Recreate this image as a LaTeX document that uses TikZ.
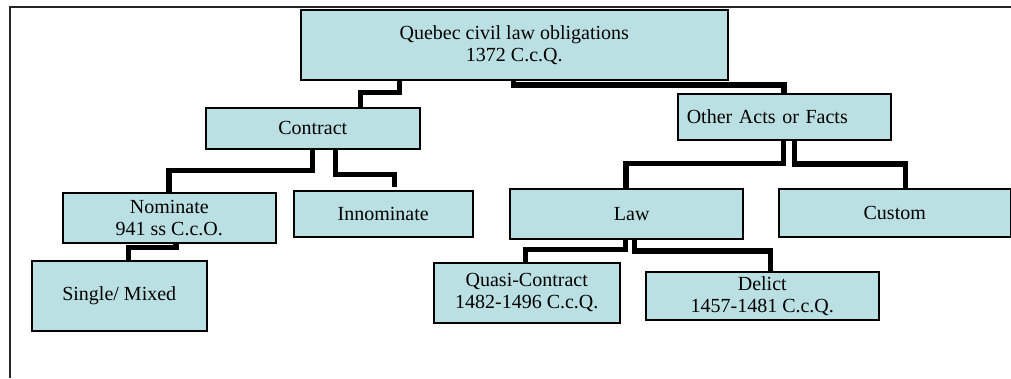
\documentclass[tikz,border=0pt]{standalone}
\usepackage{fontspec}
\setmainfont{Liberation Serif}
\definecolor{boxfill}{RGB}{187,224,227}
\begin{document}
\begin{tikzpicture}[x=1pt,y=-1pt,
  box/.style={draw=black,line width=1.5pt,fill=boxfill,inner sep=0pt,
    anchor=north west,align=center,
    font=\fontsize{20}{22}\selectfont},
  conn/.style={draw=black,line width=5.5pt,line cap=butt,line join=miter},
  frame/.style={draw=black!85,line width=1.2pt}]
\useasboundingbox (0,0) rectangle (1011,378);

% outer frame (only its top and left sides fall inside the page)
\draw[frame] (10,378) -- (10,7) -- (1011,7);

% boxes
\node[box,minimum width=427pt,minimum height=70pt] (top) at (300,9)
  {Quebec civil law obligations\\1372 C.c.Q.};
\node[box,minimum width=214pt,minimum height=41pt] (ctr) at (205,107) {Contract};
\node[box,text width=195pt,inner xsep=9pt,align=left,minimum height=46pt] (oth) at (677,93)
  {Other Acts or Facts};
\node[box,minimum width=213pt,minimum height=50pt] (nom) at (62,192)
  {Nominate\\941 ss C.c.O.};
\node[box,minimum width=179pt,minimum height=46pt] (inn) at (293,190) {Innominate};
\node[box,minimum width=175pt,minimum height=70pt] (sgl) at (31,260) {Single/ Mixed};
\node[box,minimum width=233pt,minimum height=50pt] (law) at (509,188) {\hspace*{11pt}Law};
\node[box,minimum width=232pt,minimum height=48pt] (cus) at (778,188) {Custom};
\node[box,minimum width=186pt,minimum height=60pt] (qua) at (433,262)
  {Quasi-Contract\\1482-1496 C.c.Q.};
\node[box,minimum width=233pt,minimum height=48pt] (del) at (645,271)
  {Delict\\1457-1481 C.c.Q.};

% elbow connectors
\draw[conn] (top.south -| 399.5,0) -- (399.5,92.5) -- (360.5,92.5) -- (ctr.north -| 360.5,0);
\draw[conn] (top.south -| 513.5,0) -- (513.5,85) -- (784,85) -- (oth.north -| 784,0);
\draw[conn] (ctr.south -| 312.5,0) -- (312.5,170.5) -- (169,170.5) -- (nom.north -| 169,0);
\draw[conn,shorten >=3pt] (ctr.south -| 335.5,0) -- (335.5,174.5) -- (394.5,174.5) -- (inn.north -| 394.5,0);
\draw[conn] (oth.south -| 783.5,0) -- (783.5,163.5) -- (626,163.5) -- (law.north -| 626,0);
\draw[conn] (oth.south -| 794.5,0) -- (794.5,164) -- (905.5,164) -- (cus.north -| 905.5,0);
\draw[conn] (nom.south -| 176,0) -- (176,247.5) -- (128.5,247.5) -- (sgl.north -| 128.5,0);
\draw[conn] (law.south -| 625.5,0) -- (625.5,249.5) -- (525.5,249.5) -- (qua.north -| 525.5,0);
\draw[conn] (law.south -| 634.5,0) -- (634.5,251) -- (770.5,251) -- (del.north -| 770.5,0);
\end{tikzpicture}
\end{document}
